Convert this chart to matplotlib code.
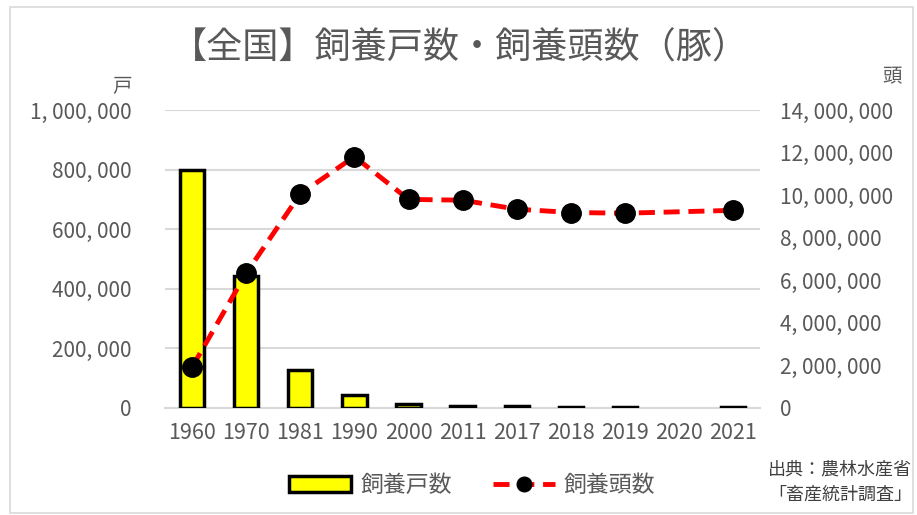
import matplotlib.pyplot as plt
from matplotlib.ticker import FuncFormatter
from matplotlib.patches import Rectangle

plt.rcParams['font.family'] = ['Noto Sans CJK JP', 'DejaVu Sans']

# データ (農林水産省「畜産統計調査」より読み取り)
years = ["1960", "1970", "1981", "1990", "2000", "2011", "2017", "2018", "2019", "2020", "2021"]
households = [799000, 444500, 126700, 43400, 11700, 6000, 4670, 4470, 4320, None, 3850]
heads = [1918000, 6335000, 10065000, 11817000, 9806000, 9768000, 9346000, 9189000, 9156000, None, 9290000]

fig = plt.figure(figsize=(9.17, 5.15), dpi=100)
fig.patches.append(Rectangle((0.011, 0.004), 0.985, 0.982, transform=fig.transFigure,
                             fill=False, edgecolor='#d9d9d9', linewidth=1.2))
ax = fig.add_axes([0.18, 0.208, 0.649, 0.578])
ax2 = ax.twinx()

x = list(range(len(years)))
bx = [i for i, v in zip(x, households) if v is not None]
bv = [v for v in households if v is not None]
ax.bar(bx, bv, width=0.45, color='#ffff00', edgecolor='black', linewidth=2.5, zorder=3)

# 2020年は欠測 -> 2019と2021を直接つなぐ
lx = [i for i, v in zip(x, heads) if v is not None]
lv = [v for v in heads if v is not None]
ax2.plot(lx, lv, color='#ff0000', linestyle=(0, (3.3, 1.8)), linewidth=3.5, marker='o',
         markersize=14, markerfacecolor='black', markeredgecolor='black', zorder=4)

fmt = FuncFormatter(lambda v, p: f"{int(v):,}".replace(",", ", "))
ax.set_ylim(0, 1000000)
ax.set_yticks(range(0, 1000001, 200000))
ax.yaxis.set_major_formatter(fmt)
ax2.set_ylim(0, 14000000)
ax2.set_yticks(range(0, 14000001, 2000000))
ax2.yaxis.set_major_formatter(fmt)
ax.set_xlim(-0.5, len(years) - 0.5)
ax.set_xticks(x)
ax.set_xticklabels(years)

ax.grid(axis='y', color='#d9d9d9', linewidth=1.5, zorder=0)
for a in (ax, ax2):
    for s in a.spines.values():
        s.set_visible(False)
    a.tick_params(length=0, labelsize=15, colors='#595959')
ax.spines['bottom'].set_visible(True)
ax.spines['bottom'].set_color('#d9d9d9')
ax.spines['bottom'].set_linewidth(1.5)
ax.tick_params(axis='y', pad=24)
ax2.tick_params(axis='y', pad=14)
ax.tick_params(axis='x', pad=10, labelsize=15.5)

fig.text(0.502, 0.905, "【全国】飼養戸数・飼養頭数（豚）", ha='center', va='center',
         fontsize=26, color='#595959')
fig.text(0.133, 0.832, "戸", ha='center', va='center', fontsize=14, color='#595959')
fig.text(0.973, 0.85, "頭", ha='center', va='center', fontsize=14, color='#595959')
fig.text(0.916, 0.064, "出典：農林水産省\n「畜産統計調査」", ha='center', va='center',
         fontsize=13, color='#404040', linespacing=1.45)

bar_h = ax.containers[0]
line_h = ax2.get_lines()[0]
fig.legend([bar_h, line_h], ["飼養戸数", "飼養頭数"], loc='center', bbox_to_anchor=(0.515, 0.058),
           ncol=2, frameon=False, fontsize=16.5, labelcolor='#595959', handlelength=2.7,
           columnspacing=1.8, handletextpad=0.4, markerscale=0.75)

fig.savefig("out.png", dpi=100)
